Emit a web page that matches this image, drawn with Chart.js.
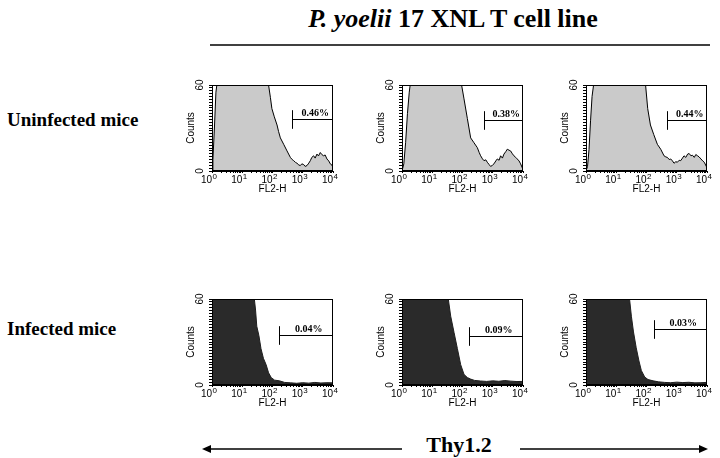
<!DOCTYPE html>
<html>
<head>
<meta charset="utf-8">
<script src="https://cdn.jsdelivr.net/npm/chart.js@4/dist/chart.umd.min.js"></script>
<style>
  body { margin: 0; background: #fff; }
  #page { position: relative; width: 720px; height: 458px; overflow: hidden; }
  #page canvas { position: absolute; }
  #page svg { position: absolute; left: 0; top: 0; }
</style>
</head>
<body>
<div id="page">
  <svg width="720" height="458" font-family="'Liberation Serif', 'Times New Roman', serif" font-weight="bold">
    <text x="453" y="27" text-anchor="middle" font-size="26"><tspan font-style="italic">P. yoelii</tspan> 17 XNL T cell line</text>
    <line x1="210" y1="45" x2="710" y2="45" stroke="#000" stroke-width="1.6"/>
    <text x="7" y="125.5" font-size="19">Uninfected mice</text>
    <text x="7" y="335" font-size="19">Infected mice</text>
    <text x="459" y="452" text-anchor="middle" font-size="22">Thy1.2</text>
    <line x1="208" y1="449" x2="402" y2="449" stroke="#000" stroke-width="1.6"/>
    <polygon points="202,449 211,445 211,453" fill="#000"/>
    <line x1="520" y1="449" x2="702" y2="449" stroke="#000" stroke-width="1.6"/>
    <polygon points="708,449 699,445 699,453" fill="#000"/>
  </svg>
</div>
<script>
// Подписи осей: основание и показатель степени
const decadeBase = '10';
const decadeExp = ['0', '1', '2', '3', '4'];
const countLabels = [0, 60];

// Незаражённые мыши (x в декадах FL2-H, y в Counts)
const uninfX1 = [0, 0.03, 0.08, 0.13, 0.16, 1.87, 1.93, 1.98, 2.06, 2.15, 2.20, 2.26, 2.37, 2.48, 2.59, 2.65, 2.70, 2.76, 2.81, 2.87, 2.92, 2.97, 3.03, 3.08, 3.14, 3.20, 3.25, 3.30, 3.36, 3.41, 3.47, 3.52, 3.58, 3.63, 3.69, 3.74, 3.80, 3.86, 3.91, 3.97, 3.99, 4.0];
const uninfY1 = [0, 8, 30, 55, 60, 60, 51.4, 43.5, 37.8, 32.1, 27.6, 23.1, 18.6, 14.0, 9.5, 8.0, 7.2, 6.0, 5.4, 4.2, 3.8, 5.0, 4.5, 3.2, 3.8, 5.5, 7.2, 9.5, 10.6, 9.0, 11.8, 10.5, 12.9, 11.5, 10.6, 11.2, 8.4, 7.0, 5.0, 4.0, 2.7, 29];
const uninfX2 = [0, 0.06, 0.12, 0.18, 0.24, 0.27, 1.97, 2.05, 2.16, 2.27, 2.38, 2.49, 2.55, 2.60, 2.66, 2.71, 2.77, 2.82, 2.88, 2.93, 2.99, 3.04, 3.10, 3.15, 3.21, 3.26, 3.32, 3.37, 3.43, 3.48, 3.54, 3.59, 3.65, 3.70, 3.76, 3.81, 3.87, 3.92, 3.99, 4.0];
const uninfY2 = [0, 5, 20, 40, 55, 60, 60, 50.3, 36.7, 23.1, 19.7, 16.3, 13.0, 10.6, 8.5, 7.2, 7.8, 6.1, 4.5, 3.2, 4.0, 5.0, 7.0, 8.4, 7.5, 10.6, 9.0, 11.8, 13.5, 15.2, 14.5, 14.0, 12.0, 10.6, 9.5, 8.4, 7.0, 5.0, 1.6, 31];
const uninfX3 = [0, 0.05, 0.10, 0.15, 0.20, 0.25, 1.97, 2.04, 2.13, 2.24, 2.36, 2.47, 2.58, 2.64, 2.69, 2.75, 2.80, 2.86, 2.91, 2.97, 3.02, 3.08, 3.13, 3.19, 3.24, 3.30, 3.36, 3.41, 3.47, 3.52, 3.58, 3.63, 3.69, 3.74, 3.80, 3.86, 3.91, 3.99, 4.0];
const uninfY3 = [0, 3, 15, 35, 52, 60, 60, 43.5, 32.1, 25.4, 18.6, 15.2, 10.6, 9.8, 9.5, 8.0, 8.4, 7.0, 5.4, 6.5, 6.1, 7.5, 7.2, 9.0, 10.6, 9.5, 11.8, 12.2, 10.6, 11.0, 9.5, 11.5, 10.6, 9.8, 8.4, 7.0, 6.1, 2.7, 25];

// Заражённые мыши
const infX1 = [0, 1.40, 1.44, 1.48, 1.55, 1.62, 1.70, 1.79, 1.87, 1.96, 2.07, 2.23, 2.40, 2.60, 2.80, 3.00, 3.20, 3.40, 3.60, 3.80, 3.99, 4.0];
const infY1 = [60, 60, 52.3, 41, 34.5, 25.3, 18.6, 14.1, 8.5, 5.1, 3.4, 2.9, 1.8, 1.5, 1.2, 1.6, 1.3, 1.8, 1.4, 1.6, 1.5, 4];
const infX2 = [0, 1.53, 1.61, 1.72, 1.83, 1.94, 2.05, 2.16, 2.27, 2.40, 2.60, 2.80, 3.00, 3.20, 3.40, 3.60, 3.80, 3.99, 4.0];
const infY2 = [60, 60, 48, 36.7, 25.5, 14.2, 7.4, 5.2, 4.1, 3.2, 2.8, 2.5, 2.9, 2.6, 3.1, 2.7, 2.4, 2.5, 12];
const infX3 = [0, 1.44, 1.50, 1.57, 1.66, 1.75, 1.83, 1.94, 2.05, 2.22, 2.40, 2.60, 2.80, 3.00, 3.20, 3.40, 3.60, 3.80, 3.99, 4.0];
const infY3 = [60, 60, 48, 37, 26, 16.8, 10.1, 5.6, 3.8, 2.9, 2.2, 1.8, 1.6, 2.0, 1.7, 1.9, 1.5, 1.6, 1.8, 5.6];

// Гейты: начало (декады), уровень (Counts), процент
const gateStart = [2.64, 2.70, 2.68, 2.22, 2.22, 2.26];
const gateCount = [36, 35.4, 35.4, 34.6, 34, 39];
const gatePercent = ['0.46%', '0.38%', '0.44%', '0.04%', '0.09%', '0.03%'];

const AXIS_W = 27, AXIS_H = 25, PAD_TOP = 6, PAD_RIGHT = 10;
const PLOT_W = 121, PLOT_H = 89;
const sansFamily = '"Liberation Sans Narrow", "Liberation Sans", Arial, sans-serif';
const smallFont = {family: sansFamily, size: 10};

const panels = [
    {xs: uninfX1, ys: uninfY1, left: 212, top: 82, fill: '#cacaca', line: '#000'},
    {xs: uninfX2, ys: uninfY2, left: 402, top: 82, fill: '#cacaca', line: '#000'},
    {xs: uninfX3, ys: uninfY3, left: 586, top: 82, fill: '#cacaca', line: '#000'},
    {xs: infX1, ys: infY1, left: 212, top: 295.5, fill: '#2a2a2a', line: '#1e1e1e'},
    {xs: infX2, ys: infY2, left: 402, top: 295.5, fill: '#2a2a2a', line: '#1e1e1e'},
    {xs: infX3, ys: infY3, left: 586, top: 295.5, fill: '#2a2a2a', line: '#1e1e1e'}
];

// Рамка, гейт и подписи 10^n
const gatePlugin = {
    id: 'gate',
    afterDatasetsDraw(chart, args, opts) {
        const {ctx, chartArea: a, scales: {x, y}} = chart;
        ctx.save();
        ctx.strokeStyle = '#000';
        ctx.lineWidth = 1;
        ctx.strokeRect(a.left + 0.5, a.top + 0.5, a.width - 1, a.height - 1);
        const gx = Math.round(x.getPixelForValue(opts.start)) + 0.5;
        const gy = Math.round(y.getPixelForValue(opts.count)) + 0.5;
        const half = y.getPixelForValue(0) - y.getPixelForValue(6.5);
        ctx.beginPath();
        ctx.moveTo(gx, gy - half);
        ctx.lineTo(gx, gy + half);
        ctx.moveTo(gx, gy);
        ctx.lineTo(a.right, gy);
        ctx.stroke();
        ctx.font = 'bold 10px "Liberation Serif", "Times New Roman", serif';
        ctx.textAlign = 'center';
        ctx.fillStyle = '#000';
        ctx.fillText(opts.label, (gx + a.right) / 2 + 2.5, gy - 4);

        // подписи декад
        decadeExp.forEach((e, k) => {
            const px = x.getPixelForValue(k);
            ctx.font = '10px ' + sansFamily;
            ctx.textAlign = 'right';
            ctx.fillText(decadeBase, px, a.bottom + 12);
            ctx.font = '8px ' + sansFamily;
            ctx.textAlign = 'left';
            ctx.fillText(e, px + 0.5, a.bottom + 8);
        });
        ctx.restore();
    }
};

function drawPanel(p, i) {
    const canvas = document.createElement('canvas');
    canvas.width = AXIS_W + PLOT_W + PAD_RIGHT;
    canvas.height = PAD_TOP + PLOT_H + AXIS_H;
    canvas.style.left = (p.left - AXIS_W) + 'px';
    canvas.style.top = (p.top - PAD_TOP) + 'px';
    document.getElementById('page').appendChild(canvas);

    new Chart(canvas.getContext('2d'), {
        type: 'line',
        data: {
            datasets: [{
                data: p.xs.map((v, k) => ({x: v, y: p.ys[k]})),
                borderColor: p.line,
                backgroundColor: p.fill,
                borderWidth: 1,
                pointRadius: 0,
                tension: 0,
                fill: 'origin'
            }]
        },
        options: {
            responsive: false,
            animation: false,
            devicePixelRatio: 1,
            layout: {padding: {top: PAD_TOP, right: PAD_RIGHT, left: 0, bottom: 0}},
            plugins: {
                legend: {display: false},
                tooltip: {enabled: false},
                gate: {start: gateStart[i], count: gateCount[i], label: gatePercent[i]}
            },
            scales: {
                x: {
                    type: 'linear',
                    min: 0,
                    max: 4,
                    afterBuildTicks: s => {
                        const t = [];
                        for (let k = 0; k < 4; k++) {
                            for (let m = 1; m < 10; m++) t.push({value: k + Math.log10(m)});
                        }
                        t.push({value: 4});
                        s.ticks = t;
                    },
                    afterFit: s => { s.height = AXIS_H; },
                    grid: {display: true, drawOnChartArea: false, tickLength: 2, color: '#000'},
                    border: {display: true, color: '#000'},
                    ticks: {
                        autoSkip: false,
                        maxRotation: 0,
                        padding: 0,
                        color: '#000',
                        font: smallFont,
                        callback: () => ''
                    },
                    title: {display: true, text: 'FL2-H', color: '#000', font: smallFont, padding: {top: 0, bottom: 1}}
                },
                y: {
                    min: 0,
                    max: 60,
                    afterFit: s => { s.width = AXIS_W; },
                    grid: {display: true, drawOnChartArea: false, tickLength: 3, color: '#000'},
                    border: {display: true, color: '#000'},
                    ticks: {
                        stepSize: 2,
                        autoSkip: false,
                        minRotation: 90,
                        maxRotation: 90,
                        crossAlign: 'center',
                        padding: 3,
                        color: '#000',
                        font: smallFont,
                        callback: v => countLabels.includes(v) ? String(v) : ''
                    },
                    title: {display: true, text: 'Counts', color: '#000', font: smallFont, padding: 0}
                }
            }
        },
        plugins: [gatePlugin]
    });
}

panels.forEach(drawPanel);
</script>
</body>
</html>
